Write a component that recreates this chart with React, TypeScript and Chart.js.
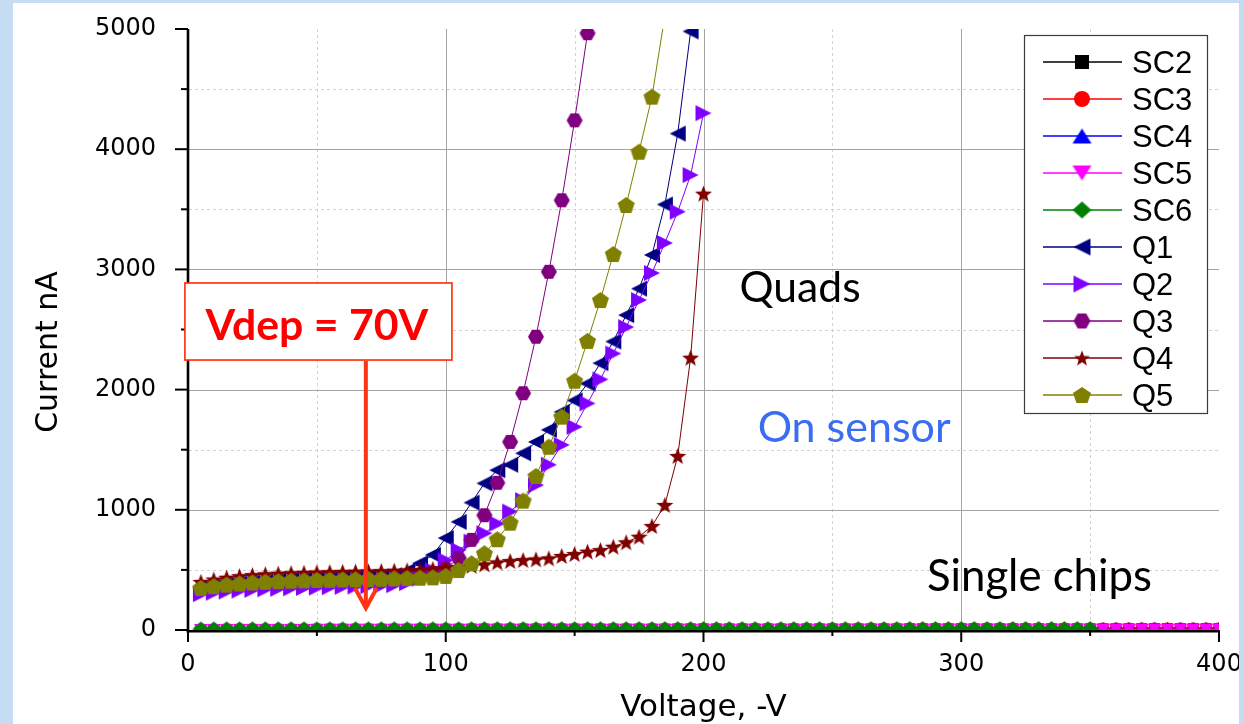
import React, { useEffect, useRef } from 'react';
import { Chart, registerables } from 'chart.js';

Chart.register(...registerables);

// ---------------- data ----------------
const scVoltage = [
  5, 10, 15, 20, 25, 30, 35, 40, 45, 50, 55, 60, 65, 70, 75, 80, 85, 90, 95, 100,
  105, 110, 115, 120, 125, 130, 135, 140, 145, 150, 155, 160, 165, 170, 175, 180, 185, 190, 195, 200,
  205, 210, 215, 220, 225, 230, 235, 240, 245, 250, 255, 260, 265, 270, 275, 280, 285, 290, 295, 300,
  305, 310, 315, 320, 325, 330, 335, 340, 345, 350, 355, 360, 365, 370, 375, 380, 385, 390, 395, 400,
];
const qVoltage = [
  5, 10, 15, 20, 25, 30, 35, 40, 45, 50, 55, 60, 65, 70, 75, 80, 85, 90, 95, 100,
  105, 110, 115, 120, 125, 130, 135, 140, 145, 150, 155, 160, 165, 170, 175, 180, 185, 190, 195, 200,
];

const sc2Current = [
  4, 4, 5, 5, 5, 5, 5, 5, 5, 6, 6, 6, 6, 6, 6, 6, 6, 6, 6, 6,
  6, 7, 7, 7, 7, 7, 7, 7, 7, 7, 7, 7, 7, 7, 7, 7, 7, 8, 8, 8,
  8, 8, 8, 8, 8, 8, 8, 8, 8, 8, 8, 8, 8, 8, 8, 9, 9, 9, 9, 9,
  9, 9, 9, 9, 9, 9, 9, 9, 9, 9, 9, 9, 9, 10, 10, 10, 10, 10, 10, 10,
];
const sc3Current = [
  6, 6, 7, 7, 7, 7, 7, 8, 8, 8, 8, 8, 8, 8, 8, 8, 8, 8, 8, 9,
  9, 9, 9, 9, 9, 9, 9, 9, 9, 9, 9, 9, 9, 9, 10, 10, 10, 10, 10, 10,
  10, 10, 10, 10, 10, 10, 10, 10, 10, 10, 10, 11, 11, 11, 11, 11, 11, 11, 11, 11,
  11, 11, 11, 11, 11, 11, 11, 11, 11, 11, 12, 12, 12, 12, 12, 12, 12, 12, 12, 12,
];
const sc4Current = [
  12, 13, 13, 13, 14, 14, 14, 14, 14, 14, 14, 14, 15, 15, 15, 15, 15, 15, 15, 15,
  15, 15, 15, 15, 15, 15, 15, 15, 16, 16, 16, 16, 16, 16, 16, 16, 16, 16, 16, 16,
  16, 16, 16, 16, 16, 16, 16, 16, 16, 16, 17, 17, 17, 17, 17, 17, 17, 17, 17, 17,
  17, 17, 17, 17, 17, 17, 17, 17, 17, 17, 17, 18, 18, 18, 18, 18, 18, 18, 18, 18,
];
const sc5Current = [
  1, 1, 1, 1, 1, 1, 1, 1, 1, 1, 2, 2, 2, 2, 2, 2, 2, 2, 2, 2,
  2, 2, 2, 2, 2, 2, 2, 2, 2, 2, 2, 2, 2, 2, 2, 2, 2, 2, 2, 2,
  2, 2, 2, 2, 2, 2, 2, 2, 2, 2, 3, 3, 3, 3, 3, 3, 3, 3, 3, 3,
  3, 3, 3, 3, 3, 3, 3, 3, 3, 3, 3, 3, 3, 3, 3, 3, 3, 3, 3, 3,
];
const sc6Current = [
  8, 8, 9, 9, 9, 9, 9, 9, 9, 9, 9, 9, 9, 9, 9, 9, 9, 9, 9, 9,
  9, 9, 10, 10, 10, 10, 10, 10, 10, 10, 10, 10, 10, 10, 10, 10, 10, 10, 10, 10,
  10, 10, 10, 10, 10, 10, 10, 10, 10, 10, 10, 10, 10, 10, 10, 11, 11, 11, 11, 11,
  11, 11, 11, 11, 11, 11, 11, 11, 11, 11,
];
const q1Current = [
  345, 362, 376, 388, 397, 404, 410, 415, 419, 423, 427, 431, 435, 440, 446, 455, 490, 555, 625, 765,
  900, 1060, 1220, 1330, 1375, 1470, 1565, 1665, 1815, 1910, 2050, 2220, 2400, 2620, 2840, 3120, 3540, 4130, 4980,
];
const q2Current = [
  298, 310, 320, 328, 334, 339, 343, 347, 350, 353, 356, 359, 362, 365, 368, 373, 390, 428, 497, 580,
  665, 735, 805, 885, 985, 1080, 1205, 1375, 1540, 1690, 1885, 2085, 2300, 2520, 2745, 2970, 3220, 3480, 3785, 4300,
];
const q3Current = [
  345, 360, 372, 382, 390, 396, 401, 405, 409, 412, 415, 418, 421, 424, 428, 433, 442, 455, 475, 510,
  600, 750, 955, 1225, 1565, 1970, 2440, 2980, 3575, 4240, 4965,
];
const q4Current = [
  400, 420, 435, 448, 457, 464, 469, 473, 476, 479, 482, 484, 486, 488, 490, 493, 496, 500, 507, 515,
  525, 535, 546, 563, 574, 582, 588, 596, 616, 632, 652, 665, 693, 730, 776, 865, 1040, 1448, 2265, 3630,
];
const q5Current = [
  350, 365, 377, 387, 395, 401, 406, 410, 413, 416, 418, 420, 422, 424, 426, 429, 432, 435, 438, 450,
  499, 555, 638, 755, 893, 1076, 1281, 1525, 1775, 2074, 2405, 2745, 3128, 3536, 3979, 4437, 5110,
];

const seriesNames = ['SC2', 'SC3', 'SC4', 'SC5', 'SC6', 'Q1', 'Q2', 'Q3', 'Q4', 'Q5'];
const xTickValues = [0, 100, 200, 300, 400];
const xTickLabels = ['0', '100', '200', '300', '400'];
const yTickValues = [0, 1000, 2000, 3000, 4000, 5000];
const yTickLabels = ['0', '1000', '2000', '3000', '4000', '5000'];

const xTitle = 'Voltage, -V';
const yTitle = 'Current nA';
const vdepText = 'Vdep = 70V';
const vdepVoltage = 69;
const quadsText = 'Quads';
const sensorText = 'On sensor';
const chipsText = 'Single chips';

// ---------------- styles ----------------
const W = 1244;
const H = 724;
const FRAME_BLUE = '#c6dcf2';
const seriesColors = ['#000000', '#ff0000', '#0000ff', '#ff00ff', '#008000', '#000080', '#8000ff', '#800080', '#800000', '#808000'];
const seriesShapes = ['square', 'circle', 'triUp', 'triDown', 'diamond', 'triLeft', 'triRight', 'hexagon', 'star', 'pentagon'];
const plotMarkerSizes: number[][] = [[11, 11], [12, 12], [13, 12], [14, 12], [17, 15], [16, 16], [16, 16], [16, 14], [17, 16], [17, 16]];
const legendMarkerSizes: number[][] = [[14, 14], [16, 16], [19, 15], [19, 15], [19, 17], [17, 17], [17, 17], [17, 15], [16, 15], [18, 16]];

function makeMarker(shape: string, color: string, w: number, h: number): HTMLCanvasElement {
  const c = document.createElement('canvas');
  c.width = Math.ceil(w) + 2;
  c.height = Math.ceil(h) + 2;
  const ctx = c.getContext('2d')!;
  const cx = c.width / 2;
  const cy = c.height / 2;
  const hw = w / 2;
  const hh = h / 2;
  ctx.fillStyle = color;
  ctx.beginPath();
  const poly = (pts: number[][]) => {
    ctx.moveTo(pts[0][0], pts[0][1]);
    for (let i = 1; i < pts.length; i++) ctx.lineTo(pts[i][0], pts[i][1]);
    ctx.closePath();
  };
  if (shape === 'square') {
    ctx.rect(cx - hw, cy - hh, w, h);
  } else if (shape === 'circle') {
    ctx.ellipse(cx, cy, hw, hh, 0, 0, Math.PI * 2);
  } else if (shape === 'triUp') {
    poly([[cx, cy - hh], [cx + hw, cy + hh], [cx - hw, cy + hh]]);
  } else if (shape === 'triDown') {
    poly([[cx, cy + hh], [cx + hw, cy - hh], [cx - hw, cy - hh]]);
  } else if (shape === 'triLeft') {
    poly([[cx - hw, cy], [cx + hw, cy - hh], [cx + hw, cy + hh]]);
  } else if (shape === 'triRight') {
    poly([[cx + hw, cy], [cx - hw, cy - hh], [cx - hw, cy + hh]]);
  } else if (shape === 'diamond') {
    poly([[cx, cy - hh], [cx + hw, cy], [cx, cy + hh], [cx - hw, cy]]);
  } else if (shape === 'hexagon') {
    const pts: number[][] = [];
    for (let k = 0; k < 6; k++) {
      const a = (k * Math.PI) / 3;
      pts.push([cx + hw * Math.cos(a), cy + (hh * Math.sin(a)) / Math.sin(Math.PI / 3)]);
    }
    poly(pts);
  } else if (shape === 'pentagon' || shape === 'star') {
    const rx = hw / Math.sin((72 * Math.PI) / 180);
    const ry = h / (1 + Math.cos((36 * Math.PI) / 180));
    const ccy = cy - hh + ry;
    const pts: number[][] = [];
    const n = shape === 'star' ? 10 : 5;
    for (let k = 0; k < n; k++) {
      const a = -Math.PI / 2 + (k * 2 * Math.PI) / n;
      const f = shape === 'star' && k % 2 === 1 ? 0.42 : 1;
      pts.push([cx + rx * f * Math.cos(a), ccy + ry * f * Math.sin(a)]);
    }
    poly(pts);
  }
  ctx.fill();
  return c;
}

function fitFont(ctx: CanvasRenderingContext2D, text: string, weight: string, family: string, target: number): string {
  ctx.font = `${weight} 40px ${family}`;
  const m = ctx.measureText(text).width || 1;
  const size = (40 * target) / m;
  return `${weight} ${size.toFixed(2)}px ${family}`;
}

export default function App() {
  const ref = useRef<HTMLCanvasElement>(null);

  useEffect(() => {
    document.body.style.margin = '0';
    const canvas = ref.current;
    if (!canvas) return;

    const seriesValues = [sc2Current, sc3Current, sc4Current, sc5Current, sc6Current, q1Current, q2Current, q3Current, q4Current, q5Current];
    const seriesVoltages = [scVoltage, scVoltage, scVoltage, scVoltage, scVoltage, qVoltage, qVoltage, qVoltage, qVoltage, qVoltage];

    const plotMarkers = seriesShapes.map((s, i) => makeMarker(s, seriesColors[i], plotMarkerSizes[i][0], plotMarkerSizes[i][1]));
    const legendMarkers = seriesShapes.map((s, i) => makeMarker(s, seriesColors[i], legendMarkerSizes[i][0], legendMarkerSizes[i][1]));

    const datasets = seriesNames.map((name, i) => ({
      label: name,
      data: seriesValues[i]
        .map((v, j) => ({ x: seriesVoltages[i][j], y: v }))
        .filter((p) => p.x !== undefined),
      borderColor: seriesColors[i],
      backgroundColor: seriesColors[i],
      borderWidth: 1,
      pointStyle: plotMarkers[i] as any,
      pointRadius: 8,
      pointHoverRadius: 8,
      tension: 0,
      fill: false,
      clip: 0,
      order: seriesNames.length - i,
    }));

    const framePlugin = {
      id: 'frame',
      beforeDraw(chart: any) {
        const { ctx } = chart;
        ctx.save();
        ctx.fillStyle = FRAME_BLUE;
        ctx.fillRect(0, 0, W, H);
        ctx.fillStyle = '#ffffff';
        ctx.fillRect(13, 3, 1226, H - 3);
        ctx.restore();
      },
    };

    const gridPlugin = {
      id: 'grid',
      beforeDatasetsDraw(chart: any) {
        const { ctx, chartArea: a, scales } = chart;
        const xs = scales.x;
        const ys = scales.y;
        ctx.save();
        ctx.lineWidth = 1;
        ctx.strokeStyle = '#d2d2d2';
        ctx.setLineDash([3, 3]);
        for (let v = 50; v < 400; v += 100) {
          const px = Math.round(xs.getPixelForValue(v)) + 0.5;
          ctx.beginPath(); ctx.moveTo(px, a.top); ctx.lineTo(px, a.bottom); ctx.stroke();
        }
        for (let v = 500; v < 5000; v += 1000) {
          const py = Math.round(ys.getPixelForValue(v)) + 0.5;
          ctx.beginPath(); ctx.moveTo(a.left + 1, py); ctx.lineTo(a.right, py); ctx.stroke();
        }
        ctx.setLineDash([]);
        ctx.strokeStyle = '#a4a4a4';
        for (let v = 100; v < 400; v += 100) {
          const px = Math.round(xs.getPixelForValue(v)) + 0.5;
          ctx.beginPath(); ctx.moveTo(px, a.top); ctx.lineTo(px, a.bottom); ctx.stroke();
        }
        for (let v = 1000; v < 5000; v += 1000) {
          const py = Math.round(ys.getPixelForValue(v)) + 0.5;
          ctx.beginPath(); ctx.moveTo(a.left + 1, py); ctx.lineTo(a.right, py); ctx.stroke();
        }
        ctx.restore();
      },
    };

    const overlayPlugin = {
      id: 'overlay',
      afterDraw(chart: any) {
        const { ctx, chartArea: a, scales } = chart;
        const xs = scales.x;
        const ys = scales.y;
        ctx.save();

        // axes lines
        ctx.strokeStyle = '#000000';
        ctx.lineWidth = 2.6;
        ctx.beginPath(); ctx.moveTo(a.left, a.top); ctx.lineTo(a.left, a.bottom + 2.3); ctx.stroke();
        ctx.beginPath(); ctx.moveTo(a.left - 1.3, a.bottom + 1.2); ctx.lineTo(a.right, a.bottom + 1.2); ctx.stroke();

        // tick marks
        ctx.lineWidth = 2;
        for (let v = 0; v <= 5000; v += 500) {
          const py = ys.getPixelForValue(v);
          const len = v % 1000 === 0 ? 13 : 7;
          ctx.beginPath(); ctx.moveTo(a.left - len, py); ctx.lineTo(a.left, py); ctx.stroke();
        }
        for (let v = 0; v <= 400; v += 50) {
          const px = xs.getPixelForValue(v);
          const len = v % 100 === 0 ? 12 : 6;
          ctx.beginPath(); ctx.moveTo(px, a.bottom); ctx.lineTo(px, a.bottom + len); ctx.stroke();
        }

        // axis titles
        ctx.fillStyle = '#000000';
        ctx.font = '31px "DejaVu Sans"';
        ctx.textAlign = 'center';
        ctx.textBaseline = 'alphabetic';
        ctx.fillText(xTitle, (a.left + a.right) / 2, 716);
        ctx.save();
        ctx.translate(57, 352);
        ctx.rotate(-Math.PI / 2);
        ctx.font = '30px "DejaVu Sans"';
        ctx.fillText(yTitle, 0, 0);
        ctx.restore();

        // annotation texts
        ctx.textAlign = 'left';
        ctx.fillStyle = '#000000';
        ctx.font = fitFont(ctx, quadsText, 'normal', 'Lato', 121);
        ctx.fillText(quadsText, xs.getPixelForValue(214), ys.getPixelForValue(2729));
        ctx.fillStyle = '#3a6cf4';
        ctx.font = fitFont(ctx, sensorText, 'normal', 'Lato', 193);
        ctx.fillText(sensorText, xs.getPixelForValue(221), ys.getPixelForValue(1564));
        ctx.fillStyle = '#000000';
        ctx.font = fitFont(ctx, chipsText, 'normal', 'Lato', 225);
        ctx.fillText(chipsText, xs.getPixelForValue(286.7), ys.getPixelForValue(324));

        // Vdep box
        const bx0 = xs.getPixelForValue(-1.2);
        const bx1 = xs.getPixelForValue(102.4);
        const by0 = ys.getPixelForValue(2887);
        const by1 = ys.getPixelForValue(2246);
        ctx.fillStyle = '#ffffff';
        ctx.fillRect(bx0, by0, bx1 - bx0, by1 - by0);
        ctx.strokeStyle = '#ff2a00';
        ctx.lineWidth = 1.6;
        ctx.strokeRect(bx0, by0, bx1 - bx0, by1 - by0);
        ctx.fillStyle = '#ff0000';
        ctx.textAlign = 'center';
        ctx.font = fitFont(ctx, vdepText, 'bold', 'Lato', 223);
        ctx.fillText(vdepText, xs.getPixelForValue(50), ys.getPixelForValue(2413));

        // arrow
        const ax = xs.getPixelForValue(vdepVoltage);
        const tipY = ys.getPixelForValue(183);
        const headY = ys.getPixelForValue(349);
        ctx.strokeStyle = '#ff3414';
        ctx.lineWidth = 4;
        ctx.lineCap = 'butt';
        ctx.beginPath(); ctx.moveTo(ax, by1 + 1); ctx.lineTo(ax, tipY - 2); ctx.stroke();
        ctx.lineJoin = 'miter';
        ctx.beginPath(); ctx.moveTo(ax - 11, headY); ctx.lineTo(ax, tipY); ctx.lineTo(ax + 11, headY); ctx.stroke();

        // legend
        const lx0 = 1024.5;
        const ly0 = 35.5;
        ctx.fillStyle = '#ffffff';
        ctx.fillRect(lx0, ly0, 183, 378);
        ctx.strokeStyle = '#3a3a3a';
        ctx.lineWidth = 1.2;
        ctx.strokeRect(lx0, ly0, 183, 378);
        ctx.font = '31px "Liberation Sans"';
        ctx.textAlign = 'left';
        ctx.textBaseline = 'alphabetic';
        seriesNames.forEach((name, i) => {
          const cy = 62 + 37 * i;
          ctx.strokeStyle = seriesColors[i];
          ctx.lineWidth = 1.5;
          ctx.beginPath(); ctx.moveTo(1043, cy); ctx.lineTo(1122, cy); ctx.stroke();
          const m = legendMarkers[i];
          ctx.drawImage(m, 1082 - m.width / 2, cy - m.height / 2);
          ctx.fillStyle = '#000000';
          ctx.fillText(name, 1132, cy + 11);
        });

        // frame strips on top
        ctx.fillStyle = FRAME_BLUE;
        ctx.fillRect(1239, 0, W - 1239, H);
        ctx.fillRect(0, 0, W, 3);
        ctx.fillRect(0, 0, 13, H);
        ctx.restore();
      },
    };

    const tickFont = { family: 'DejaVu Sans', size: 24 };

    const chart = new Chart(canvas, {
      type: 'line',
      data: { datasets: datasets as any },
      options: {
        responsive: false,
        animation: false,
        devicePixelRatio: 1,
        events: [],
        layout: { padding: 0 },
        plugins: { legend: { display: false }, tooltip: { enabled: false } },
        scales: {
          x: {
            type: 'linear',
            min: 0,
            max: 400,
            afterFit: (s: any) => {
              s.height = 94;
              s.paddingLeft = 0;
              s.paddingRight = 25;
              s.paddingTop = 0;
              s.paddingBottom = 0;
            },
            grid: { display: false },
            border: { display: false },
            ticks: {
              stepSize: 100,
              padding: 12,
              color: '#000000',
              font: tickFont,
              maxRotation: 0,
              autoSkip: false,
              callback: (v: any) => { const k = xTickValues.indexOf(Number(v)); return k >= 0 ? xTickLabels[k] : ''; },
            },
          },
          y: {
            type: 'linear',
            min: 0,
            max: 5000,
            afterFit: (s: any) => {
              s.width = 188;
              s.paddingTop = 29;
              s.paddingBottom = 0;
              s.paddingLeft = 0;
              s.paddingRight = 0;
            },
            grid: { display: false },
            border: { display: false },
            ticks: {
              stepSize: 1000,
              padding: 24,
              color: '#000000',
              font: tickFont,
              callback: (v: any) => { const k = yTickValues.indexOf(Number(v)); return k >= 0 ? yTickLabels[k] : ''; },
            },
          },
        },
      } as any,
      plugins: [framePlugin, gridPlugin, overlayPlugin],
    });

    return () => chart.destroy();
  }, []);

  return (
    <div style={{ position: 'absolute', left: 0, top: 0, width: W, height: H }}>
      <canvas ref={ref} width={W} height={H} style={{ display: 'block', width: W, height: H }} />
    </div>
  );
}
